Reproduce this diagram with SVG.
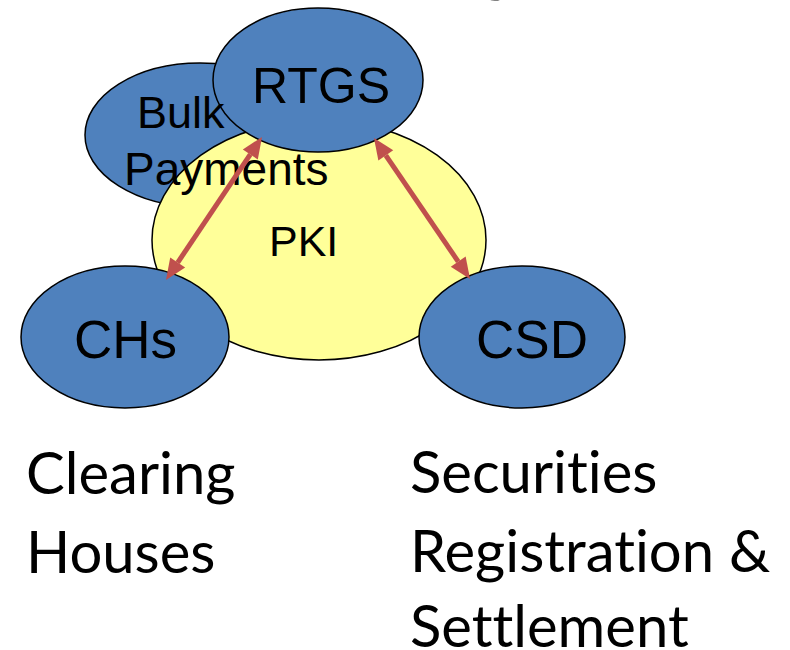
<svg xmlns="http://www.w3.org/2000/svg" width="790" height="650" viewBox="0 0 790 650">
  <style>
    .node { fill: #4F81BD; stroke: #000; stroke-width: 1.5; }
    .pki { fill: #FFFF99; stroke: #000; stroke-width: 1.5; }
    .lbl { font-family: "Liberation Sans", Arial, sans-serif; fill: #000; }
    .cap { font-family: Lato, "Open Sans", sans-serif; fill: #000; font-size: 58px; font-variant-ligatures: none; font-feature-settings: "liga" 0, "clig" 0; }
    .conn { stroke: #C0504D; stroke-width: 5; fill: none; marker-start: url(#head); marker-end: url(#head); }
  </style>
  <defs>
    <marker id="head" markerUnits="userSpaceOnUse" markerWidth="24" markerHeight="20" refX="0" refY="0" viewBox="0 -10 24 20" orient="auto-start-reverse" overflow="visible">
      <path d="M0,-9 L21,0 L0,9 z" fill="#C0504D"/>
    </marker>
  </defs>
  <rect width="790" height="650" fill="#fff"/>

  <text class="cap" x="480" y="-10" style="font-weight:bold">g</text>

  <g id="bulk">
    <ellipse class="node" cx="200" cy="135" rx="115" ry="72"/>
  </g>
  <g id="pki">
    <ellipse class="pki" cx="319" cy="240" rx="167" ry="120"/>
  </g>
  <g id="rtgs">
    <ellipse class="node" cx="318" cy="80" rx="105" ry="72"/>
  </g>
  <g id="chs">
    <ellipse class="node" cx="125" cy="337" rx="104" ry="71"/>
  </g>
  <g id="csd">
    <ellipse class="node" cx="522" cy="337" rx="103" ry="71"/>
  </g>

  <g id="labels">
    <text class="lbl" x="137" y="128" font-size="45">Bulk</text>
    <text class="lbl" x="124" y="185" font-size="46">Payments</text>
    <text class="lbl" x="252" y="103" font-size="50">RTGS</text>
    <text class="lbl" x="269" y="256" font-size="43">PKI</text>
    <text class="lbl" x="74" y="358" font-size="53">CHs</text>
    <text class="lbl" x="476" y="358" font-size="53">CSD</text>
  </g>

  <g id="connectors">
    <line class="conn" x1="177.7" y1="262.6" x2="250.3" y2="154.4"/>
    <line class="conn" x1="385.8" y1="155.4" x2="458.2" y2="261.6"/>
  </g>

  <g id="captions">
    <text class="cap" x="26" y="494">Clearing</text>
    <text class="cap" x="26" y="573">Houses</text>
    <text class="cap" x="410" y="493">Securities</text>
    <text class="cap" x="410" y="572">Registration &amp;</text>
    <text class="cap" x="410" y="647">Settlement</text>
  </g>
</svg>
